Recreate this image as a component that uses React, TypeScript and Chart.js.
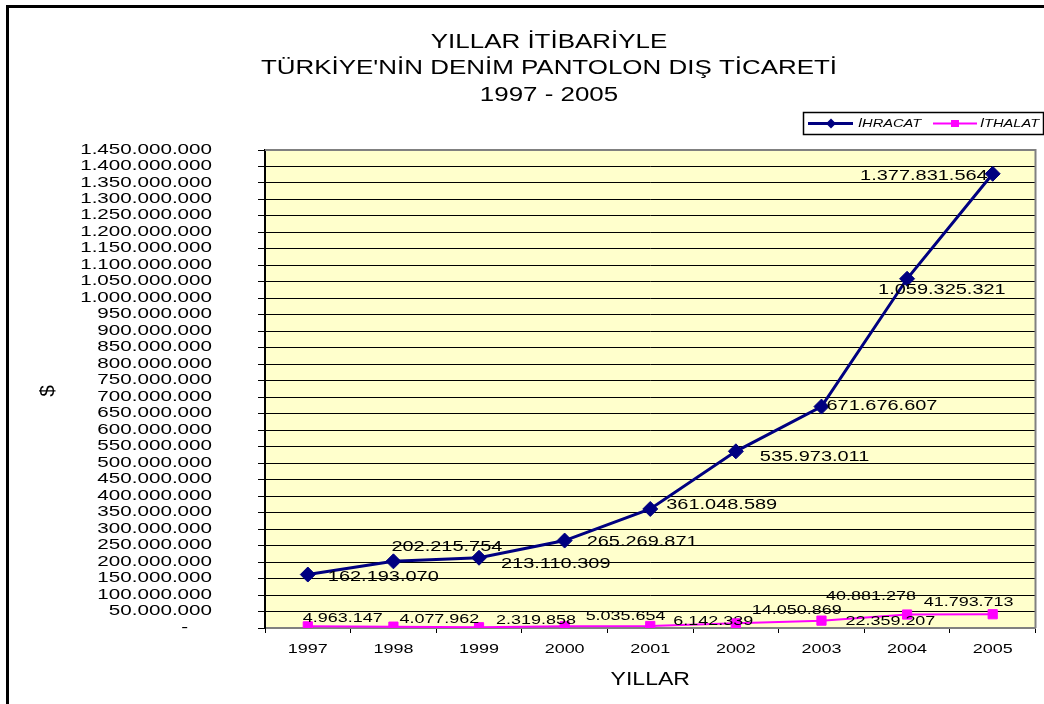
import React, { useEffect, useRef } from 'react';
import { Chart, registerables } from 'chart.js';

Chart.register(...registerables);

// ---------- data ----------
const years = ['1997', '1998', '1999', '2000', '2001', '2002', '2003', '2004', '2005'];
const ihracat = [162193070, 202215754, 213110309, 265269871, 361048589, 535973011, 671676607, 1059325321, 1377831564];
const ithalat = [4963147, 4077962, 2319858, 5035654, 6142339, 14050869, 22359207, 40881278, 41793713];
const seriesNames = ['İHRACAT', 'İTHALAT'];
const titleLines = ['YILLAR İTİBARİYLE', "TÜRKİYE'NİN DENİM PANTOLON DIŞ TİCARETİ", '1997 - 2005'];
const xAxisTitle = 'YILLAR';
const yAxisTitle = '$';
const yMin = 0;
const yMax = 1450000000;
const yStep = 50000000;

// ---------- label placement (pixel offsets relative to each point) ----------
const ihracatLabelPlace: [number, number, CanvasTextAlign][] = [
  [20, 1, 'left'], [-2, -16, 'left'], [22, 5, 'left'], [22, 0, 'left'], [16, -5, 'left'],
  [24, 4, 'left'], [5, -2, 'left'], [-29, 10, 'left'], [-5, 1, 'right'],
];
const ithalatLabelPlace: [number, number, CanvasTextAlign][] = [
  [-5, -9, 'left'], [6, -8, 'left'], [17, -8, 'left'], [21, -11, 'left'], [23, -6, 'left'],
  [16, -14, 'left'], [24, 0, 'left'], [-81, -19, 'left'], [-69, -13, 'left'],
];

const FONT = '"Liberation Sans", Arial, sans-serif';
const SX = 1.33;

const fmt = (v: number) =>
  v === 0 ? '-' : String(Math.round(v)).replace(/\B(?=(\d{3})+(?!\d))/g, '.');

function drawText(
  ctx: CanvasRenderingContext2D,
  text: string,
  x: number,
  cy: number,
  size: number,
  align: CanvasTextAlign = 'left',
  italic = false,
  sx = SX,
  rotate = 0
) {
  ctx.save();
  ctx.translate(x, cy);
  if (rotate) ctx.rotate(rotate);
  ctx.scale(sx, 1);
  ctx.font = `${italic ? 'italic ' : ''}${size}px ${FONT}`;
  ctx.textAlign = align;
  ctx.textBaseline = 'alphabetic';
  ctx.fillStyle = '#000';
  ctx.fillText(text, 0, 0.358 * size);
  ctx.restore();
}

const excelPlugin = {
  id: 'excelLook',
  beforeDraw(chart: any) {
    const { ctx, chartArea: a } = chart;
    ctx.save();
    ctx.fillStyle = '#ffffff';
    ctx.fillRect(0, 0, chart.width, chart.height);
    ctx.fillStyle = '#FFFFCC';
    ctx.fillRect(a.left, a.top, a.right - a.left, a.bottom - a.top);
    ctx.restore();
  },
  beforeDatasetsDraw(chart: any) {
    const { ctx, chartArea: a } = chart;
    ctx.save();
    ctx.strokeStyle = '#808080';
    ctx.lineWidth = 2;
    ctx.beginPath();
    ctx.moveTo(a.left, a.top);
    ctx.lineTo(a.right, a.top);
    ctx.lineTo(a.right, a.bottom);
    ctx.stroke();
    ctx.restore();
  },
  afterDraw(chart: any) {
    const { ctx, chartArea: a } = chart;
    const xs = chart.scales.x;
    const ys = chart.scales.y;

    // outer frame
    ctx.save();
    ctx.strokeStyle = '#000';
    ctx.lineWidth = 3;
    ctx.strokeRect(7.5, 6.5, 3000, 3000);
    ctx.restore();

    // title
    const tcx = 549;
    titleLines.forEach((line, i) => drawText(ctx, line, tcx, 41 + i * 26.5, 19.5, 'center'));

    // y tick labels
    ys.ticks.forEach((t: any, i: number) => {
      const py = ys.getPixelForTick(i);
      const label = fmt(t.value);
      const right = t.value === 0 ? a.left - 77 : a.left - 53;
      drawText(ctx, label, right, py - 2, 15.5, 'right');
    });

    // x tick labels
    xs.ticks.forEach((t: any, i: number) => {
      const px = xs.getPixelForTick(i);
      drawText(ctx, xs.getLabelForValue(t.value), px, 648, 13.5, 'center');
    });

    // axis titles
    drawText(ctx, xAxisTitle, (a.left + a.right) / 2, 679, 18, 'center', false, 1.28);
    drawText(ctx, yAxisTitle, 47, 391, 20, 'center', false, 1.05, -Math.PI / 2);

    // data labels
    const places = [ihracatLabelPlace, ithalatLabelPlace];
    const sizes = [15, 13.5];
    chart.data.datasets.forEach((ds: any, d: number) => {
      const meta = chart.getDatasetMeta(d);
      meta.data.forEach((el: any, i: number) => {
        const [dx, dy, al] = places[d][i];
        drawText(ctx, fmt(ds.data[i]), el.x + dx, el.y + dy, sizes[d], al);
      });
    });

    // legend
    ctx.save();
    ctx.strokeStyle = '#000';
    ctx.lineWidth = 1.5;
    ctx.strokeRect(803.5, 112.5, 240, 22);
    const ly = 123.5;
    const items = [
      { x0: 808, x1: 853, mx: 831, tx: 858 },
      { x0: 933, x1: 977, mx: 955, tx: 980 },
    ];
    chart.data.datasets.forEach((ds: any, d: number) => {
      const it = items[d];
      ctx.strokeStyle = ds.borderColor;
      ctx.lineWidth = d === 0 ? 3 : 2;
      ctx.beginPath();
      ctx.moveTo(it.x0, ly);
      ctx.lineTo(it.x1, ly);
      ctx.stroke();
      ctx.fillStyle = ds.pointBackgroundColor;
      ctx.beginPath();
      if (d === 0) {
        const r = 5;
        ctx.moveTo(it.mx, ly - r);
        ctx.lineTo(it.mx + r, ly);
        ctx.lineTo(it.mx, ly + r);
        ctx.lineTo(it.mx - r, ly);
        ctx.closePath();
      } else {
        ctx.rect(it.mx - 4, ly - 3.5, 8, 7);
      }
      ctx.fill();
      drawText(ctx, ds.label, it.tx, ly, 11, 'left', true);
    });
    ctx.restore();
  },
};

export default function App() {
  const ref = useRef<HTMLCanvasElement | null>(null);

  useEffect(() => {
    document.body.style.margin = '0';
    const canvas = ref.current;
    if (!canvas) return;
    const chart = new Chart(canvas, {
      type: 'line',
      data: {
        labels: years,
        datasets: [
          {
            label: seriesNames[0],
            data: ihracat,
            borderColor: '#000080',
            backgroundColor: '#000080',
            pointBackgroundColor: '#000080',
            pointBorderColor: '#000080',
            borderWidth: 3,
            pointStyle: 'rectRot',
            pointRadius: 7.5,
            pointBorderWidth: 1,
            tension: 0,
          },
          {
            label: seriesNames[1],
            data: ithalat,
            borderColor: '#FF00FF',
            backgroundColor: '#FF00FF',
            pointBackgroundColor: '#FF00FF',
            pointBorderColor: '#FF00FF',
            borderWidth: 2,
            pointStyle: 'rect',
            pointRadius: 6.5,
            pointBorderWidth: 1,
            tension: 0,
          },
        ],
      },
      options: {
        responsive: false,
        animation: false,
        devicePixelRatio: 1,
        layout: { padding: { top: 150, right: 6, left: 0, bottom: 0 } },
        plugins: {
          legend: { display: false },
          title: { display: false },
          tooltip: { enabled: false },
        },
        scales: {
          x: {
            type: 'category',
            offset: true,
            grid: {
              offset: true,
              drawOnChartArea: false,
              drawTicks: true,
              tickLength: 5,
              color: '#000',
              lineWidth: 1,
            },
            border: { color: '#808080', width: 2 },
            ticks: { display: false },
            afterFit: (s: any) => {
              s.height = 76;
            },
          },
          y: {
            min: yMin,
            max: yMax,
            ticks: { display: false, stepSize: yStep, autoSkip: false },
            grid: { color: '#000', lineWidth: 1, tickLength: 7, drawTicks: true },
            border: { color: '#000', width: 2 },
            afterFit: (s: any) => {
              s.width = 265;
            },
          },
        },
      },
      plugins: [excelPlugin],
    } as any);
    return () => chart.destroy();
  }, []);

  return (
    <div style={{ width: 1044, height: 704, overflow: 'hidden' }}>
      <canvas ref={ref} width={1044} height={704} style={{ display: 'block', width: 1044, height: 704 }} />
    </div>
  );
}
